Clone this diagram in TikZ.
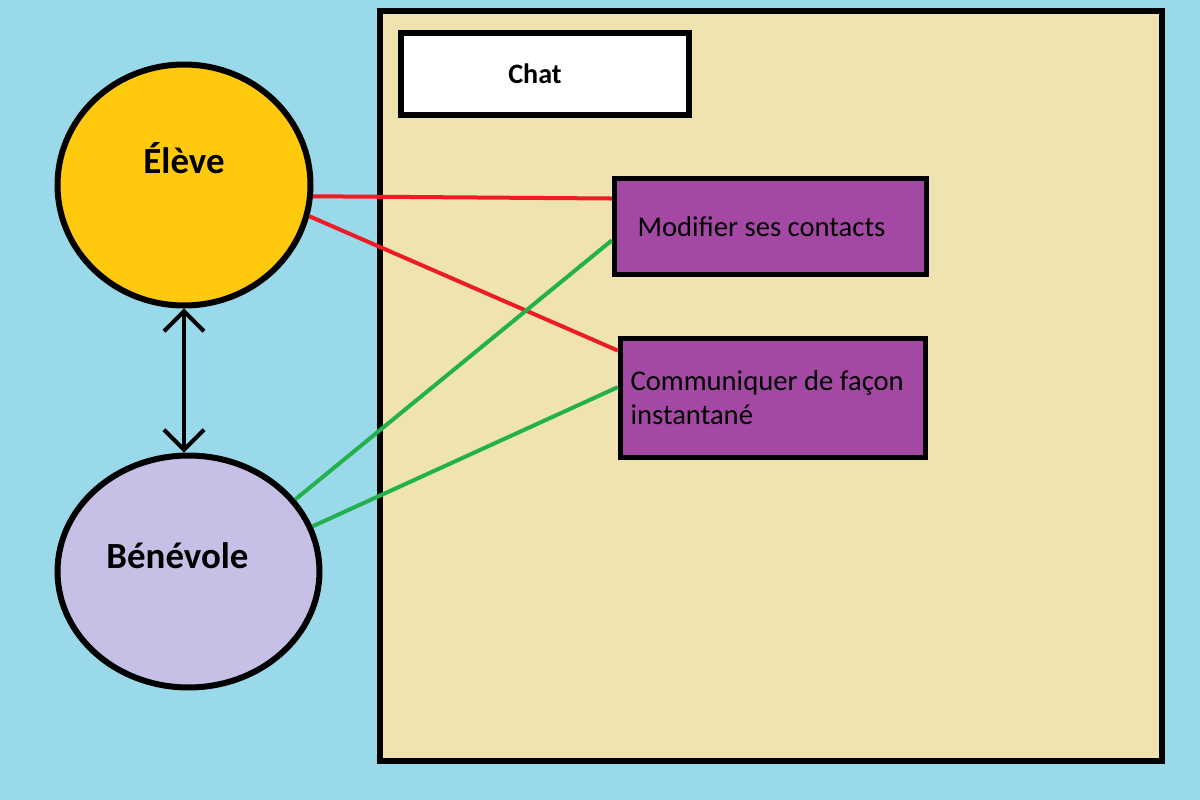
\documentclass[tikz,border=0pt]{standalone}
\usepackage{fontspec}
\setmainfont{Carlito}
\usetikzlibrary{arrows.meta, positioning, shapes.geometric}
\definecolor{ciel}{HTML}{99D9EA}
\definecolor{sable}{HTML}{EFE4B0}
\definecolor{jaune}{HTML}{FFC90E}
\definecolor{lavande}{HTML}{C8BFE7}
\definecolor{violet}{HTML}{A349A4}
\definecolor{rouge}{HTML}{ED1C24}
\definecolor{vert}{HTML}{22B14C}

\begin{document}
\begin{tikzpicture}[
x=0.02cm, y=-0.02cm,
acteur/.style={draw,
ellipse,
line width=0.12cm,
inner sep=0pt,
font=\bfseries\fontsize{21}{25}\selectfont},
cas/.style={draw,
rectangle,
fill=violet,
line width=0.11cm,
align=flush left,
font=\fontsize{16.3}{19.5}\selectfont},
lien/.style={line width=0.08cm},
arrow/.style={{Straight Barb[length=0.4cm, width=0.8cm]}-{Straight Barb[length=0.4cm, width=0.8cm]}, line width=0.08cm, line cap=round}
]

\fill[ciel] (0,0) rectangle (1200,800);

\node[draw, fill=sable, line width=0.11cm, minimum width=15.64cm, minimum height=15cm, inner sep=0pt] (systeme) at (771,386) {};
\node[draw, fill=white, line width=0.11cm, minimum width=5.76cm, minimum height=1.64cm, font=\bfseries\fontsize{16}{19}\selectfont] (chat) at (545,74) {\hspace*{-0.4cm}Chat};

\node[acteur, fill=jaune, minimum width=5.06cm, minimum height=4.82cm, label={[yshift=0.54cm, font=\bfseries\fontsize{21}{25}\selectfont]center:Élève}] (eleve) at (184,185) {};
\node[acteur, fill=lavande, minimum width=5.24cm, minimum height=4.64cm, label={[xshift=-0.22cm, yshift=0.32cm, font=\bfseries\fontsize{21}{25}\selectfont]center:Bénévole}] (benevole) at (188.5,571.5) {};

\node[cas, minimum width=6.24cm, minimum height=1.92cm, inner xsep=0.46cm, text width=5.32cm] (modifier) at (770.5,226.5) {Modifier ses contacts};
\node[cas, minimum width=6.1cm, minimum height=2.38cm, inner xsep=0.2cm, text width=5.7cm] (communiquer) at (773,398) {Communiquer de façon\\instantané};

\draw[lien, rouge] (eleve.-5) -- (modifier.170);
\draw[lien, rouge] (eleve.-14) -- (communiquer.163);
\draw[lien, vert] (benevole.34) -- (modifier.185);
\draw[lien, vert] (benevole.20) -- (communiquer.176);

\draw[arrow] (eleve.south) -- (eleve.south |- benevole.north);

\end{tikzpicture}
\end{document}
